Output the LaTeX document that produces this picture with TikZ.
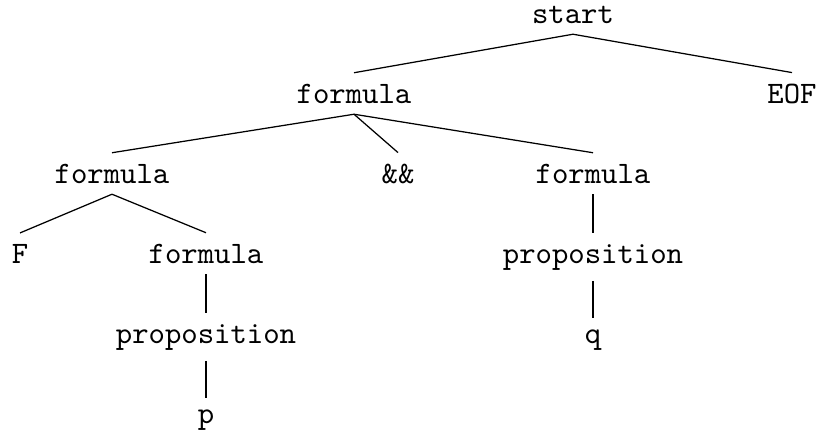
\documentclass[tikz,border=0pt]{standalone}
\begin{document}
\begin{tikzpicture}[x=0.3205pt,y=-0.3205pt,
  lbl/.style={anchor=base,font=\ttfamily},
  edge/.style={draw=black,line width=0.4pt}]
\useasboundingbox (0,0) rectangle (820,433);
% tree nodes, placed by text centre and baseline
\node[lbl] (start) at (573,23) {start};
\node[lbl] (f0)    at (354,103) {formula};
\node[lbl] (eof)   at (792,103) {EOF};
\node[lbl] (f1)    at (112,183) {formula};
\node[lbl] (and)   at (398,183) {\&\&};
\node[lbl] (f2)    at (593,183) {formula};
\node[lbl] (F)     at (20,263) {F};
\node[lbl] (f3)    at (206,263) {formula};
\node[lbl] (pr2)   at (593,263) {proposition};
\node[lbl] (pr1)   at (206,343) {proposition};
\node[lbl] (q)     at (593,343) {q};
\node[lbl] (p)     at (206,423) {p};
% edges
\draw[edge] (start.south) -- (f0.north);
\draw[edge] (start.south) -- (eof.north);
\draw[edge] (f0.south) -- (f1.north);
\draw[edge] (f0.south) -- (and.north);
\draw[edge] (f0.south) -- (f2.north);
\draw[edge] (f1.south) -- (F.north);
\draw[edge] (f1.south) -- (f3.north);
\draw[edge] (f3.south) -- (pr1.north);
\draw[edge] (pr1.south) -- (p.north);
\draw[edge] (f2.south) -- (pr2.north);
\draw[edge] (pr2.south) -- (q.north);
\end{tikzpicture}
\end{document}
